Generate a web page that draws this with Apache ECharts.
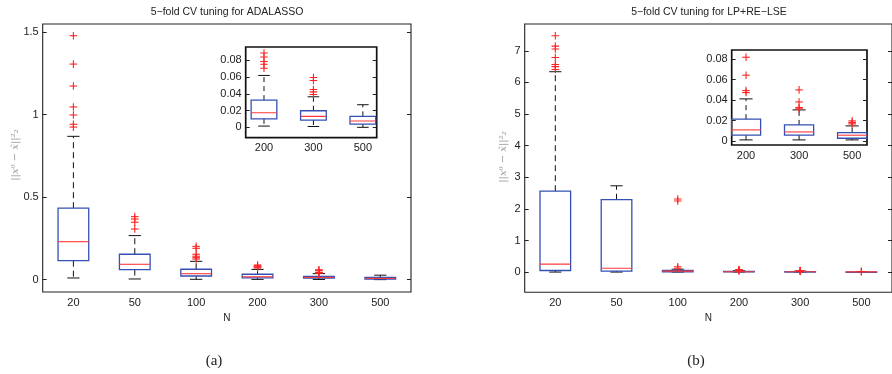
<!DOCTYPE html>
<html>
<head>
<meta charset="utf-8">
<script src="https://cdn.jsdelivr.net/npm/echarts@6/dist/echarts.min.js"></script>
<style>
html,body{margin:0;padding:0;background:#fff;}
#chart{width:892px;height:374px;}
</style>
</head>
<body>
<div id="chart"></div>
<script>
// ---------- data ----------
const categories = ['20', '50', '100', '200', '300', '500'];
const insetCategories = ['200', '300', '500'];

// [lower whisker, Q1, median, Q3, upper whisker] per N
const adaStats = [
  [0.010, 0.115, 0.230, 0.433, 0.869],
  [0.004, 0.061, 0.093, 0.154, 0.267],
  [0.002, 0.022, 0.036, 0.063, 0.111],
  [0.0015, 0.0102, 0.0174, 0.0325, 0.062],
  [0.001, 0.0087, 0.0131, 0.0198, 0.0365],
  [0.000, 0.0039, 0.0075, 0.0131, 0.027]
];
const adaOutliers = [
  [1.479, 1.307, 1.174, 1.047, 0.998, 0.942, 0.925],
  [0.382, 0.368, 0.348, 0.307],
  [0.202, 0.190, 0.154, 0.142, 0.133, 0.125],
  [0.0888, 0.084, 0.0786, 0.0754, 0.0706],
  [0.0595, 0.056, 0.0452, 0.0424, 0.0393],
  []
];

const lpStats = [
  [0.000, 0.050, 0.250, 2.560, 6.340],
  [0.000, 0.030, 0.120, 2.290, 2.730],
  [0.000, 0.010, 0.030, 0.054, 0.090],
  [0.001, 0.0056, 0.0108, 0.0213, 0.0412],
  [0.001, 0.0056, 0.0088, 0.0157, 0.0304],
  [0.001, 0.0026, 0.0056, 0.0082, 0.0147]
];
const lpOutliers = [
  [7.48, 7.15, 7.06, 6.79, 6.57, 6.50, 6.41],
  [],
  [2.31, 2.25, 0.17, 0.12],
  [0.082, 0.0644, 0.0493, 0.0474],
  [0.050, 0.0382, 0.0327, 0.0314],
  [0.0196, 0.018, 0.0167]
];

const adaYTicks = [0, 0.5, 1, 1.5];
const lpYTicks = [0, 1, 2, 3, 4, 5, 6, 7];
const insetYTicks = [0, 0.02, 0.04, 0.06, 0.08];
const insetXTicks = [1, 2, 3];

// ---------- helpers ----------
const FONT = '"Liberation Sans", Arial, Helvetica, sans-serif';
const LABEL = { color: '#222', fontSize: 11, fontFamily: FONT };

function boxRender(widthFrac, capFrac, dash) {
  return function (params, api) {
    const xv = api.value(0);
    const lo = api.value(1), q1 = api.value(2), med = api.value(3), q3 = api.value(4), hi = api.value(5);
    const x = api.coord([xv, med])[0];
    const unit = api.size([1, 0])[0];
    const hw = unit * widthFrac / 2;
    const cw = hw * capFrac;
    const y = v => api.coord([xv, v])[1];
    const ylo = y(lo), yq1 = y(q1), ymed = y(med), yq3 = y(q3), yhi = y(hi);
    const blk = { stroke: '#111', lineWidth: 1 };
    const dsh = { stroke: '#111', lineWidth: 1, lineDash: dash };
    return {
      type: 'group',
      children: [
        { type: 'line', shape: { x1: x, y1: yq3, x2: x, y2: yhi }, style: dsh },
        { type: 'line', shape: { x1: x, y1: yq1, x2: x, y2: ylo }, style: dsh },
        { type: 'line', shape: { x1: x - cw, y1: yhi, x2: x + cw, y2: yhi }, style: blk },
        { type: 'line', shape: { x1: x - cw, y1: ylo, x2: x + cw, y2: ylo }, style: blk },
        { type: 'rect', shape: { x: x - hw, y: yq3, width: 2 * hw, height: Math.max(yq1 - yq3, 0.5) },
          style: { fill: 'rgba(0,0,0,0)', stroke: '#3550b4', lineWidth: 1.3 } },
        { type: 'line', shape: { x1: x - hw, y1: ymed, x2: x + hw, y2: ymed },
          style: { stroke: '#ff3a3a', lineWidth: 1.1 } }
      ]
    };
  };
}

function plusRender(params, api) {
  const p = api.coord([api.value(0), api.value(1)]);
  const s = 3.8;
  const st = { stroke: '#ff2222', lineWidth: 1.1 };
  return {
    type: 'group',
    children: [
      { type: 'line', shape: { x1: p[0] - s, y1: p[1], x2: p[0] + s, y2: p[1] }, style: st },
      { type: 'line', shape: { x1: p[0], y1: p[1] - s, x2: p[0], y2: p[1] + s }, style: st }
    ]
  };
}

const mainBoxData = stats => stats.map((s, i) => [i].concat(s));
const insetBoxData = stats => stats.slice(3).map((s, i) => [i + 1].concat(s));
const mainOutData = outs => outs.flatMap((arr, i) => arr.map(v => [i, v]));
const insetOutData = outs => outs.slice(3).flatMap((arr, i) => arr.map(v => [i + 1, v]));

function yAxes(gridIndex, min, max, ticks) {
  const base = {
    type: 'value', gridIndex, min, max,
    axisLine: { show: false }, splitLine: { show: false },
    axisTick: { show: true, inside: true, length: 4, customValues: ticks, lineStyle: { color: '#222' } }
  };
  return [
    Object.assign({}, base, { position: 'left',
      axisLabel: Object.assign({ customValues: ticks, margin: 4 }, LABEL) }),
    Object.assign({}, base, { position: 'right', axisLabel: { show: false } })
  ];
}

const grids = [
  { left: 42.7, top: 24, width: 368.3, height: 268, show: true, borderColor: '#222', borderWidth: 1.1, backgroundColor: '#fff' },
  { left: 245.7, top: 47, width: 131, height: 90.7, show: true, borderColor: '#111', borderWidth: 1.7, backgroundColor: '#fff' },
  { left: 524.7, top: 24, width: 368, height: 268.3, show: true, borderColor: '#222', borderWidth: 1.1, backgroundColor: '#fff' },
  { left: 731.7, top: 50, width: 135.3, height: 95, show: true, borderColor: '#111', borderWidth: 1.7, backgroundColor: '#fff' }
];

const mainX = gi => ({
  type: 'category', gridIndex: gi, data: categories, boundaryGap: true,
  axisLine: { show: false }, axisTick: { show: false }, splitLine: { show: false },
  axisLabel: Object.assign({ margin: 5, interval: 0 }, LABEL),
  name: 'N', nameLocation: 'middle', nameGap: 16,
  nameTextStyle: { color: '#222', fontSize: 10, fontFamily: FONT }
});
const insetX = (gi, min, max) => ({
  type: 'value', gridIndex: gi, min, max,
  axisLine: { show: false }, axisTick: { show: false }, splitLine: { show: false },
  axisLabel: Object.assign({ customValues: insetXTicks, margin: 5,
    formatter: v => insetCategories[Math.round(v) - 1] }, LABEL)
});

const yAxisList = []
  .concat(yAxes(0, -0.075, 1.55, adaYTicks))       // 0,1
  .concat(yAxes(1, -0.0124, 0.096, insetYTicks))   // 2,3
  .concat(yAxes(2, -0.64, 7.85, lpYTicks))         // 4,5
  .concat(yAxes(3, -0.004, 0.0891, insetYTicks));  // 6,7

function seriesFor(xi, yi, boxData, outData, wf, cf, dash) {
  return [
    { type: 'custom', xAxisIndex: xi, yAxisIndex: yi, data: boxData, clip: true,
      encode: { x: 0, y: [1, 2, 3, 4, 5] }, renderItem: boxRender(wf, cf, dash), z: 3 },
    { type: 'custom', xAxisIndex: xi, yAxisIndex: yi, data: outData, clip: true,
      encode: { x: 0, y: 1 }, renderItem: plusRender, z: 4 }
  ];
}

const ylabelText = '||x⁰ − x̂||²₂';

const option = {
  animation: false,
  backgroundColor: '#fff',
  grid: grids,
  xAxis: [mainX(0), insetX(1, 0.63, 3.28), mainX(2), insetX(3, 0.73, 3.28)],
  yAxis: yAxisList,
  series: []
    .concat(seriesFor(0, 0, mainBoxData(adaStats), mainOutData(adaOutliers), 0.5, 0.4, [6, 4]))
    .concat(seriesFor(1, 2, insetBoxData(adaStats), insetOutData(adaOutliers), 0.52, 0.45, [5, 4]))
    .concat(seriesFor(2, 4, mainBoxData(lpStats), mainOutData(lpOutliers), 0.5, 0.4, [6, 4]))
    .concat(seriesFor(3, 6, insetBoxData(lpStats), insetOutData(lpOutliers), 0.55, 0.45, [5, 4])),
  graphic: [
    { type: 'text', x: 227, y: 12, style: { text: '5−fold CV tuning for ADALASSO', fill: '#222',
      font: '10.5px ' + FONT, textAlign: 'center', textVerticalAlign: 'middle' } },
    { type: 'text', x: 709, y: 12, style: { text: '5−fold CV tuning for LP+RE−LSE', fill: '#222',
      font: '10.5px ' + FONT, textAlign: 'center', textVerticalAlign: 'middle' } },
    { type: 'text', x: 15, y: 155, rotation: Math.PI / 2, style: { text: ylabelText, fill: '#999',
      font: 'italic 10px "DejaVu Serif", serif', textAlign: 'center', textVerticalAlign: 'middle' } },
    { type: 'text', x: 503, y: 157, rotation: Math.PI / 2, style: { text: ylabelText, fill: '#999',
      font: 'italic 10px "DejaVu Serif", serif', textAlign: 'center', textVerticalAlign: 'middle' } },
    { type: 'text', x: 214, y: 361, style: { text: '(a)', fill: '#222',
      font: '15px "Liberation Serif", "DejaVu Serif", serif', textAlign: 'center', textVerticalAlign: 'middle' } },
    { type: 'text', x: 696, y: 361, style: { text: '(b)', fill: '#222',
      font: '15px "Liberation Serif", "DejaVu Serif", serif', textAlign: 'center', textVerticalAlign: 'middle' } }
  ]
};

const chart = echarts.init(document.getElementById('chart'), null, { renderer: 'canvas' });
chart.setOption(option);
</script>
</body>
</html>
